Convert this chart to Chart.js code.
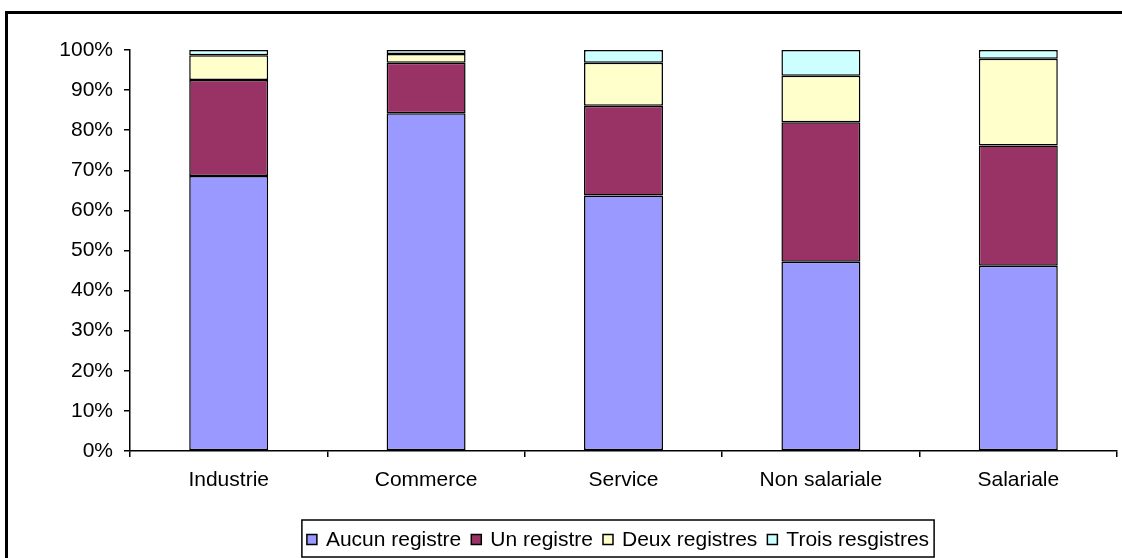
<!DOCTYPE html>
<html lang="fr">
<head>
    <meta charset="UTF-8">
    <title>Registres par secteur</title>
    <script src="https://cdn.jsdelivr.net/npm/chart.js@4.4.0/dist/chart.umd.min.js"></script>
    <style>
        * { margin: 0; padding: 0; box-sizing: border-box; }
        body { width: 1122px; height: 558px; background: #fff; overflow: hidden; position: relative; }
        .frame {
            position: absolute; left: 5px; top: 11px; width: 1200px; height: 600px;
            border-top: 3px solid #000; border-left: 3px solid #000;
        }
        .chart-wrapper { position: absolute; left: 0; top: 0; width: 1122px; height: 558px; }
    </style>
</head>
<body>
    <div class="frame"></div>
    <div class="chart-wrapper"><canvas id="regChart"></canvas></div>

    <script>
        // données
        const categories = ['Industrie', 'Commerce', 'Service', 'Non salariale', 'Salariale'];
        const aucun = [68.6, 84.2, 63.7, 47.2, 46.2];
        const un = [23.9, 12.6, 22.4, 34.8, 30.0];
        const deux = [6.2, 2.2, 10.7, 11.6, 21.6];
        const trois = [1.3, 1.0, 3.2, 6.4, 2.2];
        const seriesNames = ['Aucun registre', 'Un registre', 'Deux registres', 'Trois resgistres'];
        const seriesColors = ['#9999FF', '#993366', '#FFFFCC', '#CCFFFF'];

        const FONT = "'Liberation Sans', Arial, sans-serif";
        const FSIZE = 21;

        const mkSet = (i, vals) => ({
            label: seriesNames[i],
            data: vals,
            backgroundColor: seriesColors[i],
            borderColor: '#000',
            borderWidth: 1.5,
            borderSkipped: false
        });

        // légende encadrée dessinée à la main
        const boxLegend = {
            id: 'boxLegend',
            afterDraw(chart) {
                const ctx = chart.ctx;
                ctx.save();
                ctx.font = FSIZE + 'px ' + FONT;
                const mark = 10, gap = 9, sep = 10, padX = 5;
                const items = chart.data.datasets.map(d => ({ label: d.label, color: d.backgroundColor, w: ctx.measureText(d.label).width }));
                let total = padX * 2;
                items.forEach((it, i) => { total += mark + gap + it.w + (i < items.length - 1 ? sep : 0); });
                const cx = 618;
                const top = 520, h = 37;
                let x = cx - total / 2;
                ctx.strokeStyle = '#000';
                ctx.lineWidth = 1.5;
                ctx.strokeRect(x, top, total, h);
                x += padX;
                const my = top + h / 2 + 1;
                ctx.textBaseline = 'middle';
                items.forEach(it => {
                    ctx.fillStyle = it.color;
                    ctx.fillRect(x, my - mark / 2, mark, mark);
                    ctx.lineWidth = 1.5;
                    ctx.strokeRect(x, my - mark / 2, mark, mark);
                    x += mark + gap;
                    ctx.fillStyle = '#000';
                    ctx.fillText(it.label, x, my + 1);
                    x += it.w + sep;
                });
                ctx.restore();
            }
        };

        const config = {
            type: 'bar',
            data: {
                labels: categories,
                datasets: [mkSet(0, aucun), mkSet(1, un), mkSet(2, deux), mkSet(3, trois)]
            },
            options: {
                responsive: true,
                maintainAspectRatio: false,
                animation: false,
                layout: { padding: { top: 50, right: 5, left: 0, bottom: 57 } },
                datasets: { bar: { barPercentage: 0.4, categoryPercentage: 1 } },
                plugins: {
                    legend: { display: false },
                    tooltip: { enabled: false }
                },
                scales: {
                    x: {
                        stacked: true,
                        afterFit: s => { s.height = 50; },
                        border: { color: '#000', width: 1.5 },
                        grid: { drawOnChartArea: false, tickLength: 6, color: '#000', lineWidth: 1.5 },
                        ticks: { color: '#000', padding: 11, font: { family: FONT, size: FSIZE }, maxRotation: 0 }
                    },
                    y: {
                        stacked: true,
                        min: 0,
                        max: 100,
                        afterFit: s => { s.width = 130; },
                        border: { color: '#000', width: 1.5 },
                        grid: { drawOnChartArea: false, tickLength: 6, color: '#000', lineWidth: 1.5 },
                        ticks: {
                            stepSize: 10,
                            color: '#000',
                            padding: 11,
                            font: { family: FONT, size: FSIZE },
                            callback: v => v + '%'
                        }
                    }
                }
            },
            plugins: [boxLegend]
        };

        const ctx = document.getElementById('regChart').getContext('2d');
        new Chart(ctx, config);
    </script>
</body>
</html>
